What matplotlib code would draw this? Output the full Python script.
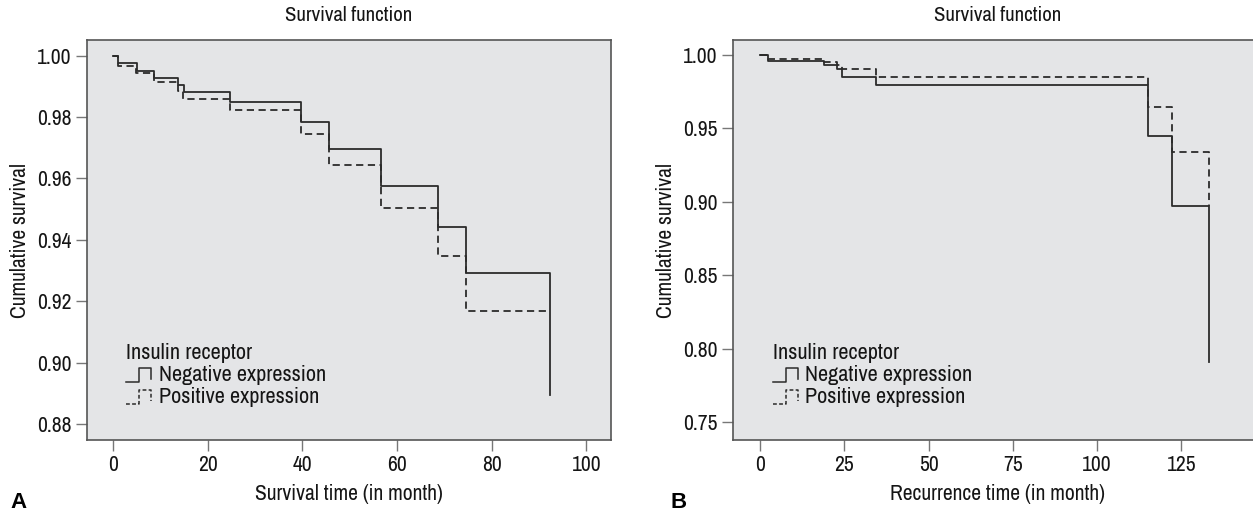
import matplotlib
matplotlib.use("Agg")
import matplotlib.pyplot as plt
from matplotlib import font_manager

# 資料
os_time_neg = [0, 1.1, 5.0, 8.7, 13.8, 15.0, 24.8, 39.8, 45.7, 56.7, 68.7, 74.6, 92.4]
os_surv_neg = [1.0, 0.9975, 0.9950, 0.9927, 0.9904, 0.9882, 0.9848, 0.9784, 0.9697, 0.9577, 0.9441, 0.9291, 0.8896]
os_time_pos = [0, 1.1, 4.9, 8.7, 13.7, 14.8, 24.7, 39.7, 45.6, 56.7, 68.7, 74.6, 92.4]
os_surv_pos = [1.0, 0.9967, 0.9942, 0.9913, 0.9884, 0.9859, 0.9822, 0.9746, 0.9644, 0.9504, 0.9347, 0.9168, 0.9168]

rfs_time_neg = [0, 2.5, 19.0, 22.7, 24.4, 34.5, 115.2, 122.3, 133.2]
rfs_surv_neg = [1.0, 0.9961, 0.9932, 0.9905, 0.9852, 0.9796, 0.9450, 0.8974, 0.7910]
rfs_time_pos = [0, 2.5, 19.0, 22.8, 24.4, 34.3, 115.2, 122.3, 133.2]
rfs_surv_pos = [1.0, 0.9971, 0.9950, 0.9932, 0.9905, 0.9852, 0.9648, 0.9337, 0.8974]

os_xticks = [0, 20, 40, 60, 80, 100]
os_yticks = [0.88, 0.90, 0.92, 0.94, 0.96, 0.98, 1.00]
rfs_xticks = [0, 25, 50, 75, 100, 125]
rfs_yticks = [0.75, 0.80, 0.85, 0.90, 0.95, 1.00]

legend_title = "Insulin receptor"
legend_labels = ["Negative expression", "Positive expression"]

# 字型: 原圖是窄體字, 找找看有沒有 condensed / narrow
main_font = "Liberation Sans"
stretch = "normal"
for f in font_manager.fontManager.ttflist:
    if "Narrow" in f.name or "Condensed" in f.name:
        main_font = f.name
        break
else:
    for f in font_manager.fontManager.ttflist:
        if f.name in ("DejaVu Sans", "Liberation Sans") and str(f.stretch) in ("condensed", "semi-condensed"):
            main_font = f.name
            stretch = "condensed"
            break
plt.rcParams['font.family'] = [main_font, 'DejaVu Sans']
plt.rcParams['font.stretch'] = stretch

W, H = 1253, 517
bg = "#e4e5e7"
line_col = "#2b2b2b"
spine_col = "#555555"
txt_col = "#151515"
fs = 15.5

fig = plt.figure(figsize=(W / 100, H / 100), dpi=100)


def px_axes(x0, y0, x1, y1):
    return fig.add_axes([x0 / W, 1 - y1 / H, (x1 - x0) / W, (y1 - y0) / H])


def draw_panel(ax, t_neg, s_neg, t_pos, s_pos, xticks, yticks, xlim, ylim, xlabel):
    ax.set_facecolor(bg)
    ax.step(t_neg, s_neg, where="post", color=line_col, lw=1.3, ls="-")
    ax.step(t_pos, s_pos, where="post", color=line_col, lw=1.3, ls=(0, (4, 2.5)))
    ax.set_xlim(*xlim)
    ax.set_ylim(*ylim)
    ax.set_xticks(xticks)
    ax.set_yticks(yticks)
    ax.set_yticklabels(["{:.2f}".format(v) for v in yticks])
    ax.tick_params(axis="both", direction="out", length=8, width=1, color="#777777",
                   labelsize=fs, labelcolor=txt_col, pad=3)
    for s in ax.spines.values():
        s.set_color(spine_col)
        s.set_linewidth(1.2)
    ax.set_xlabel(xlabel, fontsize=fs, color=txt_col, labelpad=6)
    ax.set_ylabel("Cumulative survival", fontsize=fs, color=txt_col, labelpad=5)
    ax.set_title("Survival function", fontsize=15, color=txt_col, pad=14)

    # 圖例
    tr = ax.transAxes
    x0 = 0.075
    ax.text(x0, 0.218, legend_title, transform=tr, fontsize=16, color=txt_col, va="center")
    rows = [0.163, 0.108]
    styles = ["-", (0, (2.5, 1.5))]
    for r, st, lab in zip(rows, styles, legend_labels):
        h = 0.035
        xs = [x0, x0 + 0.025, x0 + 0.025, x0 + 0.048, x0 + 0.048]
        ys = [r - h / 2, r - h / 2, r + h / 2, r + h / 2, r - h / 3]
        ax.plot(xs, ys, transform=tr, color=line_col, lw=1.1, ls=st, clip_on=False)
        ax.text(x0 + 0.062, r, lab, transform=tr, fontsize=16, color=txt_col, va="center")


ax1 = px_axes(87, 40, 611, 440)
draw_panel(ax1, os_time_neg, os_surv_neg, os_time_pos, os_surv_pos,
           os_xticks, os_yticks, (-5.5, 105.2), (0.8748, 1.0051),
           "Survival time (in month)")

ax2 = px_axes(733, 40, 1262, 440)
ax2.spines["right"].set_visible(False)
draw_panel(ax2, rfs_time_neg, rfs_surv_neg, rfs_time_pos, rfs_surv_pos,
           rfs_xticks, rfs_yticks, (-8, 148.9), (0.7377, 1.0102),
           "Recurrence time (in month)")

panel_font = {"family": ["Liberation Sans", "DejaVu Sans"], "weight": "bold", "size": 16}
fig.text(10 / W, 1 - 503 / H, "A", fontdict=panel_font, va="center", ha="left")
fig.text(670 / W, 1 - 503 / H, "B", fontdict=panel_font, va="center", ha="left")

fig.savefig("out.png", dpi=100, facecolor="white")
